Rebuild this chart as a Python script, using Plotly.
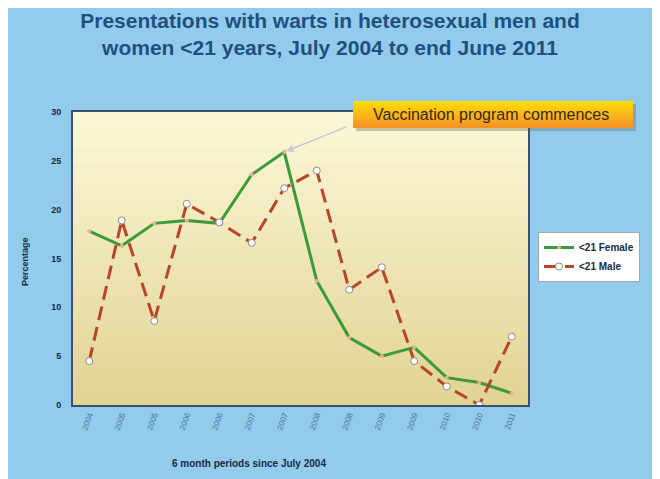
import plotly.graph_objects as go

categories = ["2004", "2005", "2005", "2006", "2006", "2007", "2007",
              "2008", "2008", "2009", "2009", "2010", "2010", "2011"]
female = [17.8, 16.3, 18.6, 18.9, 18.6, 23.6, 25.9, 12.7, 6.9, 5.0, 5.9, 2.8, 2.3, 1.2]
male = [4.5, 18.9, 8.6, 20.6, 18.7, 16.6, 22.2, 24.0, 11.8, 14.1, 4.5, 1.9, 0.0, 7.0]
y_ticks = [0, 5, 10, 15, 20, 25, 30]

# page body has an 8px margin; figure sized to fit the 660x479 window
OFF = 8
W, H = 660 - OFF, 479 - OFF
# plot-area edges in screen pixels
L, R, T, B = 73, 528, 112, 405
PW, PH = R - L, B - T


def px(x):
    return (x - L) / PW


def py(y):
    return (B - y) / PH


x_idx = list(range(len(categories)))
FONT = "Liberation Sans, Arial"

fig = go.Figure()
fig.add_trace(go.Scatter(
    x=x_idx, y=female, name="<b><21 Female</b>", mode="lines+markers",
    line=dict(color="#3c9a3c", width=3),
    marker=dict(size=4, color="#e8b090", line=dict(width=0)),
))
fig.add_trace(go.Scatter(
    x=x_idx, y=male, name="<b><21 Male</b>", mode="lines+markers",
    line=dict(color="#b8452a", width=3, dash="14px,7px"),
    marker=dict(size=7, color="white", line=dict(color="#8a8a8a", width=1)),
))

shapes = []
# gradient plot background
n = 40
top_c = (252, 248, 216)
bot_c = (226, 212, 148)
for i in range(n):
    t = i / (n - 1)
    c = tuple(int(top_c[k] + (bot_c[k] - top_c[k]) * t) for k in range(3))
    shapes.append(dict(type="rect", xref="paper", yref="paper",
                       x0=0, x1=1, y0=max(0, 1 - (i + 1.6) / n), y1=1 - i / n,
                       fillcolor="rgb(%d,%d,%d)" % c, line=dict(width=0), layer="below"))
# vaccination callout box (gradient yellow->orange)
bx0, bx1, by0, by1 = 353, 633, 101, 128
m = 14
ctop = (255, 220, 10)
cbot = (244, 148, 40)
shapes.append(dict(type="rect", xref="paper", yref="paper",
                   x0=px(bx0 + 3), x1=px(bx1 + 3), y0=py(by1 + 3), y1=py(by0 + 3),
                   fillcolor="rgba(110,100,70,0.35)", line=dict(width=0)))
for i in range(m):
    t = i / (m - 1)
    c = tuple(int(ctop[k] + (cbot[k] - ctop[k]) * t) for k in range(3))
    ya = by0 + (by1 - by0) * i / m
    yb = min(by1, by0 + (by1 - by0) * (i + 1.6) / m)
    shapes.append(dict(type="rect", xref="paper", yref="paper",
                       x0=px(bx0), x1=px(bx1), y0=py(yb), y1=py(ya),
                       fillcolor="rgb(%d,%d,%d)" % c, line=dict(width=0)))

annotations = [
    dict(text="Vaccination program commences", xref="paper", yref="paper",
         x=px((bx0 + bx1) / 2 - 2), y=py((by0 + by1) / 2), showarrow=False,
         xanchor="center", yanchor="middle",
         font=dict(family=FONT, size=16, color="#352a0c")),
    dict(x=6, y=female[6], xref="x", yref="y", text="", showarrow=True,
         ax=64, ay=-26, arrowhead=2, arrowsize=1, arrowwidth=1.5,
         arrowcolor="#c8c8d4", standoff=2),
    dict(text="<b>6 month periods since July 2004</b>", xref="paper", yref="paper",
         x=px(249), y=py(463), showarrow=False, xanchor="center", yanchor="middle",
         font=dict(family=FONT, size=10, color="#1a2a40")),
    dict(text="<b>Percentage</b>", xref="paper", yref="paper",
         x=px(25), y=py(262), showarrow=False, textangle=-90,
         xanchor="center", yanchor="middle",
         font=dict(family=FONT, size=9, color="#1a2a40")),
]

fig.update_layout(
    width=W, height=H,
    margin=dict(l=L - OFF, r=W - (R - OFF), t=T - OFF, b=H - (B - OFF), autoexpand=False),
    paper_bgcolor="#92cbec",
    plot_bgcolor="rgba(0,0,0,0)",
    title=dict(
        text="<b>Presentations with warts in heterosexual men and<br>women &lt;21 years, July 2004 to end June 2011</b>",
        x=(330 - OFF) / W, xref="container", xanchor="center",
        y=1 - (33.5 - 6 - OFF) / H, yref="container", yanchor="middle",
        font=dict(family=FONT, size=21, color="#1f5080"),
    ),
    shapes=shapes,
    annotations=annotations,
    showlegend=True,
    legend=dict(x=px(538), y=py(232), xanchor="left", yanchor="top",
                bgcolor="white", bordercolor="#a0a8b8", borderwidth=1,
                font=dict(family=FONT, size=10, color="#1a2a40"),
                itemwidth=30, tracegroupgap=4),
    font=dict(family=FONT),
)
fig.update_xaxes(
    range=[-0.5, len(categories) - 0.5],
    tickmode="array", tickvals=x_idx, ticktext=categories,
    tickangle=-70, tickfont=dict(size=8, color="#4a6f9a"),
    showgrid=False, zeroline=False,
    showline=True, linecolor="#3c4f6c", linewidth=2, mirror=True,
    ticks="",
)
fig.update_yaxes(
    range=[0, 30], tickmode="array", tickvals=y_ticks,
    ticktext=["<b>%d</b>" % v for v in y_ticks],
    tickfont=dict(size=9, color="#1a2a40"),
    showgrid=False, zeroline=False,
    showline=True, linecolor="#3c4f6c", linewidth=2, mirror=True,
    ticks="", ticklabelstandoff=8,
)

fig.write_html("out.html")
